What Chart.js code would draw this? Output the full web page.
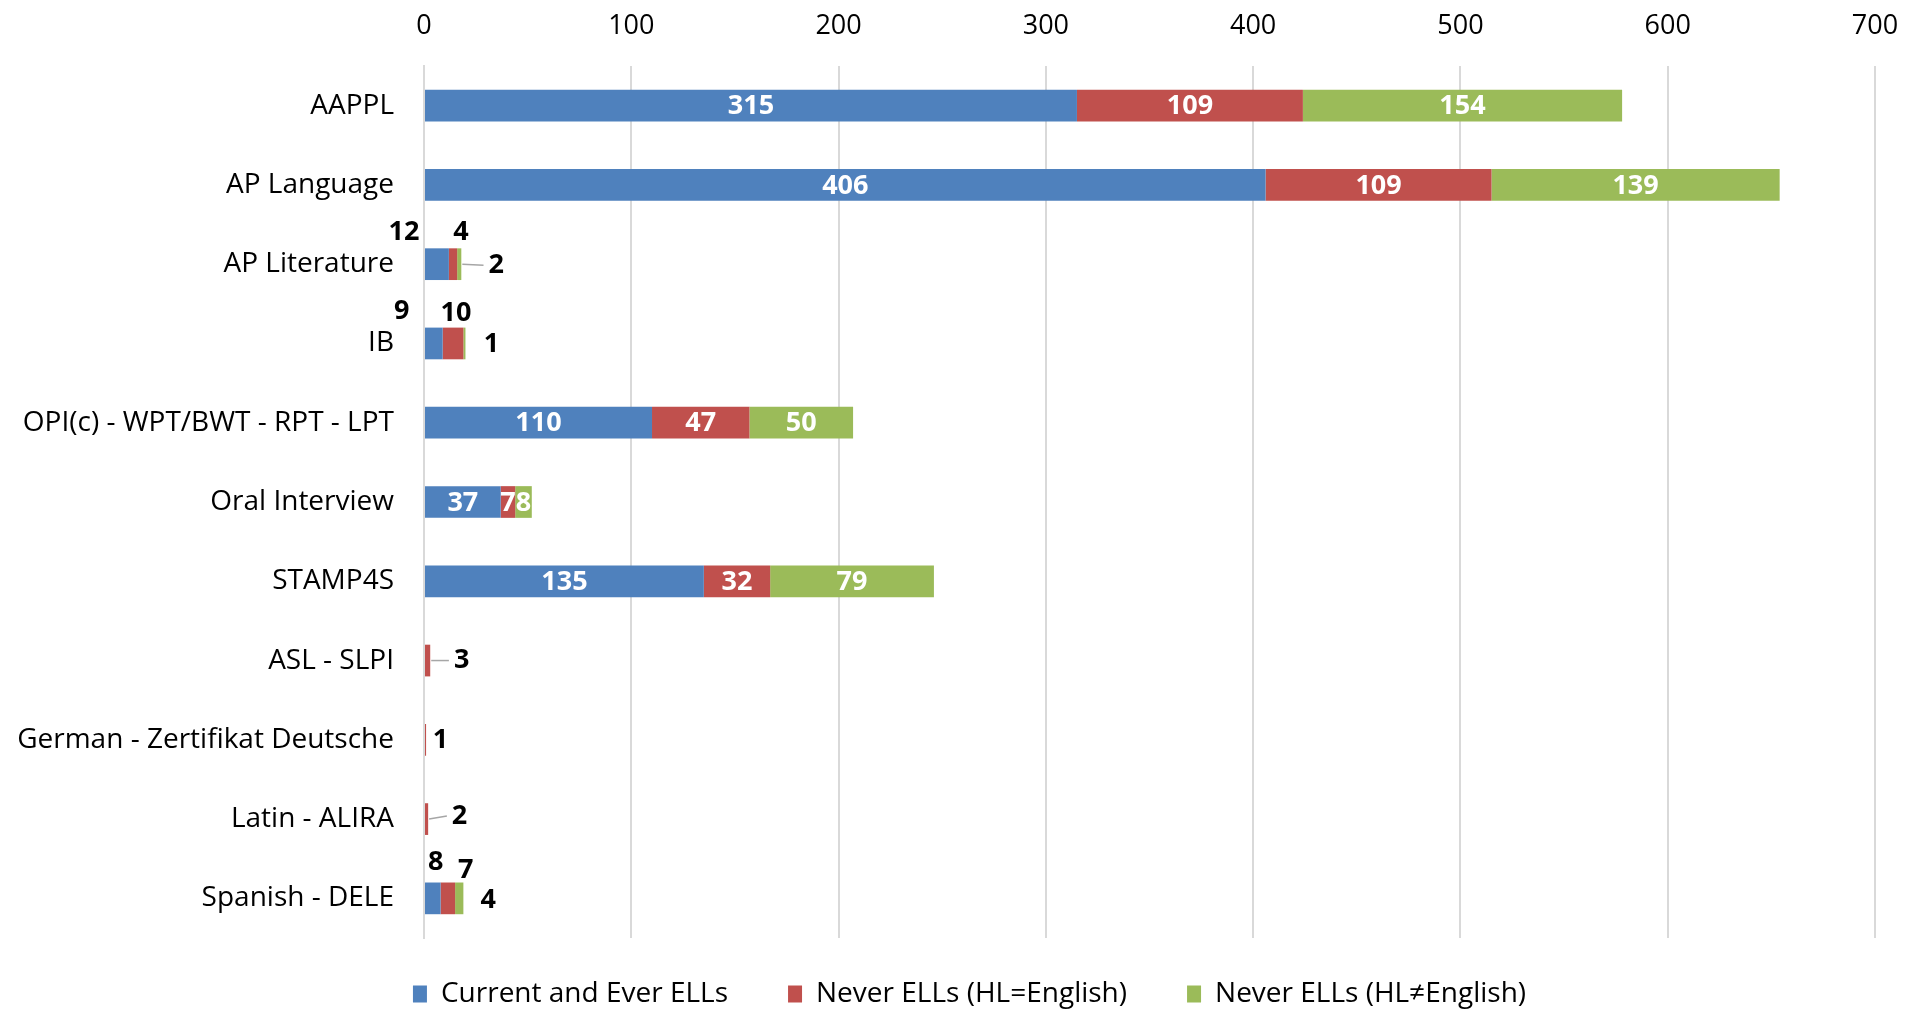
<!DOCTYPE html>
<html>
<head>
<meta charset="utf-8">
<script src="https://cdn.jsdelivr.net/npm/chart.js@4/dist/chart.umd.min.js"></script>
<style>
  html, body { margin: 0; padding: 0; background: #fff; }
  #wrap { width: 1923px; height: 1012px; position: relative; }
</style>
</head>
<body>
<div id="wrap"><canvas id="chart"></canvas></div>
<script>
// === DATA ===
const categories = [
    'AAPPL', 'AP Language', 'AP Literature', 'IB', 'OPI(c) - WPT/BWT - RPT - LPT',
    'Oral Interview', 'STAMP4S', 'ASL - SLPI', 'German - Zertifikat Deutsche',
    'Latin - ALIRA', 'Spanish - DELE'
];
const currentEver = [315, 406, 12, 9, 110, 37, 135, 0, 0, 0, 8];
const neverEnglish = [109, 109, 4, 10, 47, 7, 32, 3, 1, 2, 7];
const neverOther = [154, 139, 2, 1, 50, 8, 79, 0, 0, 0, 4];
const seriesNames = ['Current and Ever ELLs', 'Never ELLs (HL=English)', 'Never ELLs (HL\u2260English)'];
const xTicks = [0, 100, 200, 300, 400, 500, 600, 700];

// label placement for the thin bars (offset from segment centre, px), per series
const callouts = {
    'AP Literature': [{ dx: -33, dy: -32 }, { dx: 8, dy: -32 }, { dx: 37, dy: 1, leader: true }],
    'IB': [{ dx: -32, dy: -32 }, { dx: 3, dy: -30 }, { dx: 27, dy: 1 }],
    'ASL - SLPI': [null, { dx: 34, dy: 0, leader: true }, null],
    'German - Zertifikat Deutsche': [null, { dx: 15, dy: 0 }, null],
    'Latin - ALIRA': [null, { dx: 33, dy: -3, leader: true }, null],
    'Spanish - DELE': [{ dx: 3, dy: -36 }, { dx: 18, dy: -28 }, { dx: 29, dy: 2 }]
};

const FONT = "'Open Sans', 'DejaVu Sans', sans-serif";
const colors = ['#4F81BD', '#C0504D', '#9BBB59'];

// === LABEL PLUGIN ===
const barLabels = {
    id: 'barLabels',
    afterDatasetsDraw(chart) {
        const ctx = chart.ctx;
        ctx.save();
        ctx.font = `bold 27px ${FONT}`;
        ctx.textAlign = 'center';
        ctx.textBaseline = 'middle';
        chart.data.datasets.forEach((ds, i) => {
            const meta = chart.getDatasetMeta(i);
            meta.data.forEach((el, j) => {
                const v = ds.data[j];
                if (!v) return;
                const cx = (el.x + el.base) / 2;
                const c = callouts[categories[j]];
                if (c) {
                    const o = c[i];
                    if (!o) return;
                    const lx = cx + o.dx, ly = el.y + o.dy;
                    if (o.leader) {
                        const w = ctx.measureText(String(v)).width;
                        ctx.strokeStyle = '#A6A6A6';
                        ctx.lineWidth = 1.5;
                        ctx.beginPath();
                        ctx.moveTo(el.x + 1, el.y);
                        ctx.lineTo(lx - w / 2 - 5, ly);
                        ctx.stroke();
                    }
                    ctx.fillStyle = '#000';
                    ctx.fillText(String(v), lx, ly);
                } else {
                    ctx.fillStyle = '#fff';
                    ctx.fillText(String(v), cx, el.y + 1);
                }
            });
        });
        ctx.restore();
    }
};

// legend: wide gaps between items but sitting close under the plot
const legendPlace = {
    id: 'legendPlace',
    beforeLayout(chart) {
        const lg = chart.legend;
        if (lg && !lg._patched) {
            const fit = lg.fit;
            lg.fit = function () { fit.call(this); this.height = 74; };
            lg._patched = true;
        }
    },
    afterLayout(chart) {
        const lg = chart.legend;
        lg.top -= 18;
        lg.left += 32; lg.right += 32;
    }
};

// === CHART ===
const ctx = document.getElementById('chart').getContext('2d');
new Chart(ctx, {
    type: 'bar',
    data: {
        labels: categories,
        datasets: [currentEver, neverEnglish, neverOther].map((d, i) => ({
            label: seriesNames[i],
            data: d,
            backgroundColor: colors[i],
            borderWidth: 0,
            barPercentage: 0.4,
            categoryPercentage: 1
        }))
    },
    options: {
        indexAxis: 'y',
        responsive: true,
        maintainAspectRatio: false,
        animation: false,
        layout: { padding: { top: 0, right: 48, bottom: 0, left: 0 } },
        plugins: {
            tooltip: { enabled: false },
            legend: {
                position: 'bottom',
                labels: {
                    font: { family: FONT, size: 28 },
                    color: '#000',
                    boxWidth: 14,
                    boxHeight: 17,
                    padding: 60
                }
            }
        },
        scales: {
            x: {
                position: 'top',
                stacked: true,
                min: 0,
                max: 700,
                afterBuildTicks: s => { s.ticks = xTicks.map(v => ({ value: v })); },
                ticks: { font: { family: FONT, size: 27 }, color: '#000', padding: 23 },
                grid: { color: '#D9D9D9', lineWidth: 2, drawTicks: false },
                border: { display: false },
                afterFit: s => { s.height = 66; }
            },
            y: {
                stacked: true,
                ticks: { font: { family: FONT, size: 28 }, color: '#000', padding: 22 },
                grid: { display: false },
                border: { color: '#D9D9D9', width: 2 },
                afterFit: s => { s.width = 424; }
            }
        }
    },
    plugins: [barLabels, legendPlace]
});
</script>
</body>
</html>
